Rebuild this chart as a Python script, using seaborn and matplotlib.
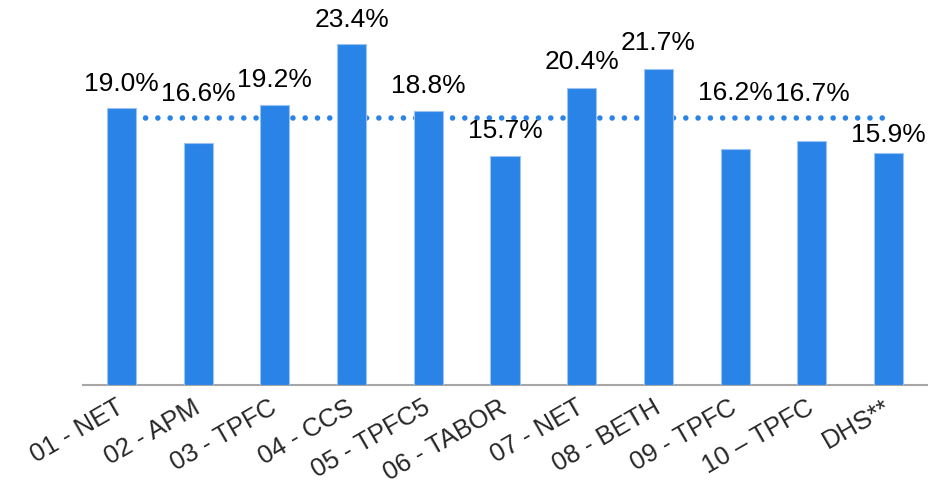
import numpy as np
import pandas as pd
import matplotlib
matplotlib.use("Agg")
import matplotlib.pyplot as plt
import seaborn as sns

# chart data
sites = ["01 - NET", "02 - APM", "03 - TPFC", "04 - CCS", "05 - TPFC5", "06 - TABOR",
         "07 - NET", "08 - BETH", "09 - TPFC", "10 \u2013 TPFC", "DHS**"]
rates = [19.0, 16.6, 19.2, 23.4, 18.8, 15.7, 20.4, 21.7, 16.2, 16.7, 15.9]
average = 18.3
# label lift above each bar (points), raised where the dotted line is in the way
label_lift = [12, 30, 13, 12, 13, 13, 13, 13, 35, 29, 8]

df = pd.DataFrame({"site": sites, "rate": rates})

sns.set_style("white")
plt.rcParams["font.family"] = ["Liberation Sans", "DejaVu Sans"]

blue = "#2A83E6"
fig = plt.figure(figsize=(9.32, 4.86), dpi=100)
ax = fig.add_axes([83 / 932, 101 / 486, 844 / 932, 385 / 486])

sns.barplot(data=df, x="site", y="rate", color=blue, saturation=1, width=0.38,
            edgecolor="#9CC4F2", linewidth=0.8, ax=ax, zorder=3)

# dotted average line behind the bars
ax.hlines(average, 0, len(sites) - 1 - 0.07, colors=blue, linewidth=4,
          linestyles=(0, (0.01, 2.2)), capstyle="round", zorder=2)

for i, (v, lift) in enumerate(zip(rates, label_lift)):
    ax.annotate(f"{v:.1f}%", (i, v), xytext=(0, lift), textcoords="offset points",
                ha="center", va="baseline", fontsize=19, color="black")

ax.set_ylim(0, 26.4)
ax.set_xlim(-0.5, len(sites) - 0.5)
ax.set_yticks([])
ax.set_xlabel("")
ax.set_ylabel("")
for s in ["left", "right", "top"]:
    ax.spines[s].set_visible(False)
ax.spines["bottom"].set_color("#A6A6A6")
ax.spines["bottom"].set_linewidth(1.5)

ax.set_xticks(range(len(sites)))
ax.set_xticklabels(sites, rotation=30, ha="right", va="center",
                   rotation_mode="anchor", fontsize=18.5)
ax.tick_params(axis="x", which="major", length=0, pad=15)
ax.set_xticks(np.arange(len(sites) + 1) - 0.5, minor=True)
ax.tick_params(axis="x", which="minor", length=6, width=1.5, color="#A6A6A6")

fig.savefig("out.png", dpi=100)
